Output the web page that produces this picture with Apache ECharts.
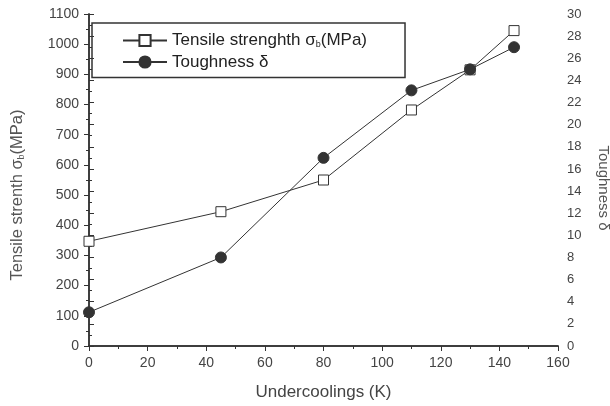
<!DOCTYPE html>
<html><head><meta charset="utf-8">
<script src="https://cdn.jsdelivr.net/npm/echarts@6/dist/echarts.min.js"></script>
<style>html,body{margin:0;padding:0;background:#fff}#c{width:610px;height:406px}</style>
</head><body><div id="c"></div>
<script>
const undercooling = [0, 45, 80, 110, 130, 145];
const tensile = [347, 445, 550, 782, 915, 1045];
const toughness = [3.05, 8, 17, 23.1, 25, 27];
const xTicks = {min: 0, max: 160, interval: 20};
const yLeftTicks = {min: 0, max: 1100, interval: 100};
const yRightTicks = {min: 0, max: 30, interval: 2};

const F = 'Liberation Sans, Arial, sans-serif';
const axisCol = '#333';
const chart = echarts.init(document.getElementById('c'));
const pair = (xs, ys) => xs.map((x, i) => [x, ys[i]]);
const minor = () => ({show: true, splitNumber: 2, length: 3, lineStyle: {color: axisCol, width: 1}});
chart.setOption({
  animation: false,
  grid: {left: 89, right: 52, top: 14, bottom: 59},
  legend: {
    orient: 'vertical', left: 92, top: 23,
    padding: [9, 38, 7, 30], itemGap: 4, itemWidth: 44, itemHeight: 14,
    borderColor: '#333', borderWidth: 1.5,
    textStyle: {fontFamily: F, fontSize: 17, color: '#222',
      rich: {sub: {fontSize: 9, fontFamily: F, color: '#222', padding: [9, 0, 0, 0]}}},
    formatter: n => n === 'Tensile' ? 'Tensile strenghth σ{sub|b}(MPa)' : 'Toughness δ',
    data: ['Tensile', 'Toughness']
  },
  xAxis: [{
    type: 'value', ...xTicks, position: 'bottom',
    name: 'Undercoolings (K)', nameLocation: 'middle', nameGap: 38,
    nameTextStyle: {fontFamily: F, fontSize: 17, color: '#444'},
    axisLine: {lineStyle: {color: axisCol, width: 1.5}},
    axisTick: {inside: false, length: 5, lineStyle: {color: axisCol}},
    minorTick: minor(),
    axisLabel: {fontFamily: F, fontSize: 14, color: '#444', margin: 10},
    splitLine: {show: false}
  }, {
    type: 'value', ...xTicks, position: 'top',
    axisLine: {lineStyle: {color: axisCol, width: 1.5}},
    axisTick: {inside: true, length: 5, lineStyle: {color: axisCol}},
    minorTick: minor(),
    axisLabel: {show: false}, splitLine: {show: false}
  }],
  yAxis: [{
    type: 'value', ...yLeftTicks, position: 'left',
    axisLine: {show: true, lineStyle: {color: axisCol, width: 1.5}},
    axisTick: {show: true, inside: false, length: 5, lineStyle: {color: axisCol}},
    minorTick: minor(),
    axisLabel: {fontFamily: F, fontSize: 14, color: '#444', margin: 10, formatter: v => String(v)},
    splitLine: {show: false}
  }, {
    type: 'value', ...yRightTicks, position: 'right',
    axisLine: {show: true, lineStyle: {color: axisCol, width: 1.5}},
    axisTick: {show: true, inside: false, length: 5, lineStyle: {color: axisCol}},
    minorTick: minor(),
    axisLabel: {fontFamily: F, fontSize: 13, color: '#444', margin: 9},
    splitLine: {show: false}
  }],
  series: [{
    name: 'Tensile', type: 'line', xAxisIndex: 0, yAxisIndex: 0,
    data: pair(undercooling, tensile),
    symbol: 'rect', symbolSize: 10,
    lineStyle: {color: '#333', width: 1},
    itemStyle: {color: '#fff', borderColor: '#333', borderWidth: 1},
    z: 3
  }, {
    name: 'Toughness', type: 'line', xAxisIndex: 0, yAxisIndex: 1,
    data: pair(undercooling, toughness),
    symbol: 'circle', symbolSize: 11,
    lineStyle: {color: '#333', width: 1},
    itemStyle: {color: '#333', borderColor: '#333', borderWidth: 1},
    z: 4
  }],
  graphic: [{
    type: 'text', x: 17, y: 195, rotation: Math.PI / 2,
    style: {text: 'Tensile strenth σ{sub|b}(MPa)', fontFamily: F, fontSize: 16.5, fill: '#555',
      align: 'center', verticalAlign: 'middle',
      rich: {sub: {fontSize: 9, fontFamily: F, fill: '#555', padding: [9, 0, 0, 0]}}}
  }, {
    type: 'text', x: 603, y: 188, rotation: -Math.PI / 2,
    style: {text: 'Toughness δ', fontFamily: F, fontSize: 15, fill: '#555',
      align: 'center', verticalAlign: 'middle'}
  }]
});
</script></body></html>
